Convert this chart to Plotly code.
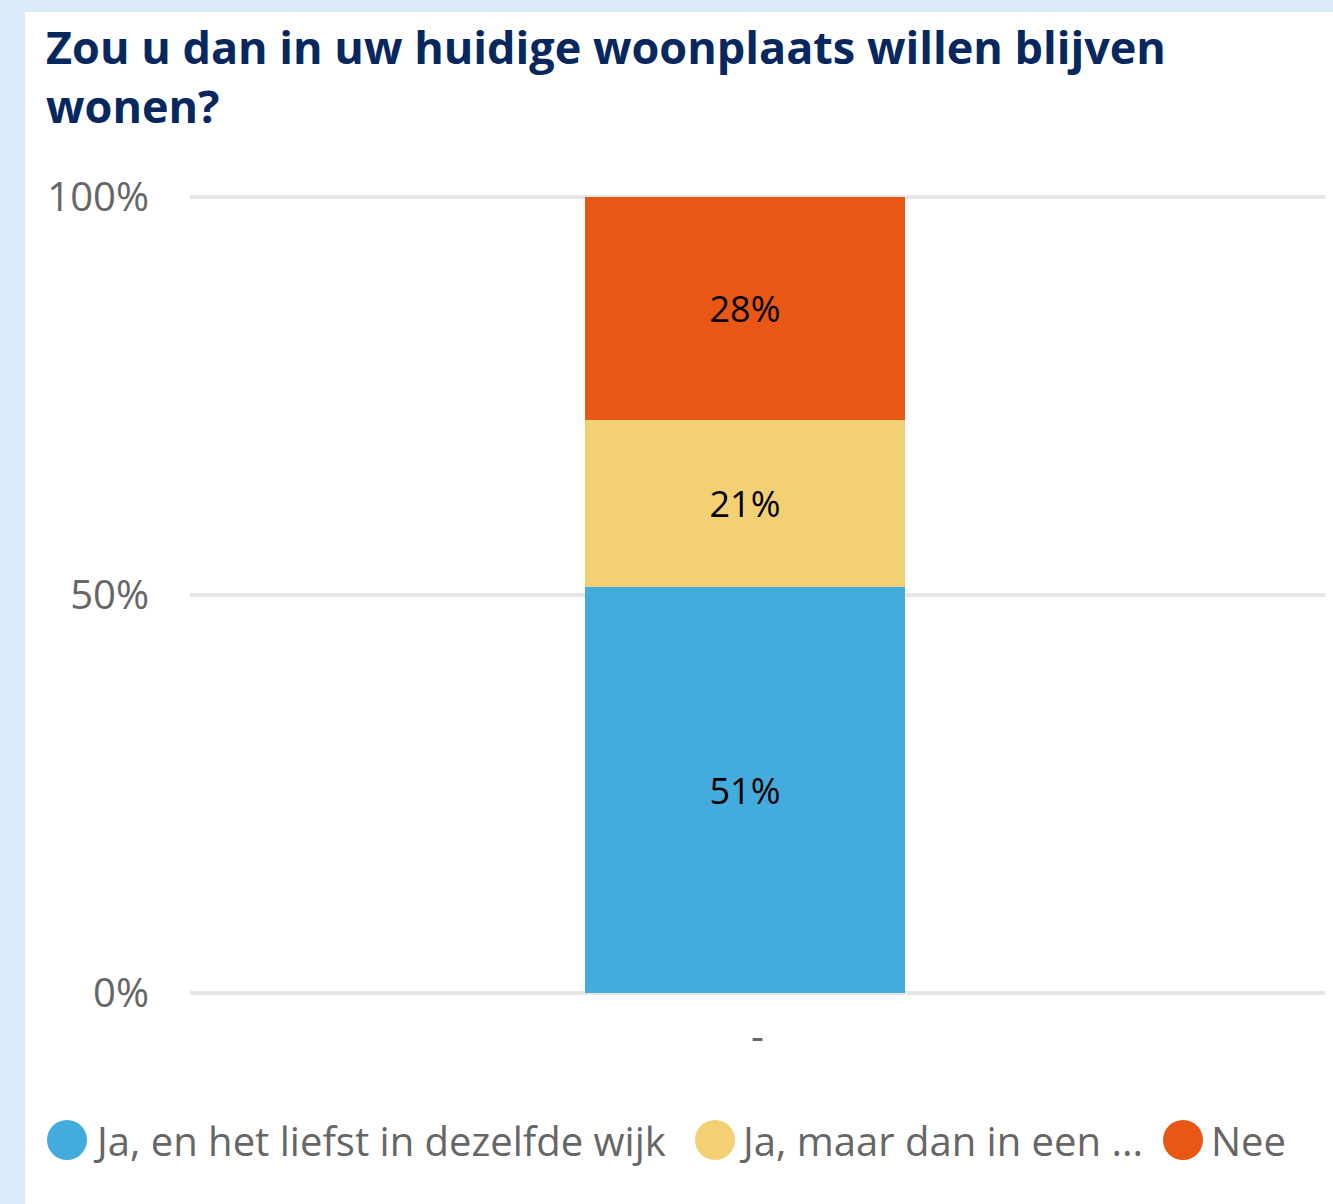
import plotly.graph_objects as go

categories = ["-"]
series_names = ["Ja, en het liefst in dezelfde wijk", "Ja, maar dan in een ...", "Nee"]
series_values = [[51], [21], [28]]
series_colors = ["#44ACDD", "#F3D073", "#E85713"]
tick_vals = [0, 50, 100]
tick_text = ["0%", "50%", "100%"]
title_text = "Zou u dan in uw huidige woonplaats willen blijven<br>wonen?"

W, H = 1333, 1204
PAD = 0.25  # small range padding so the 0% and 100% gridlines show
L, R = 190, 1325
T, B = 197 - 7.96 * PAD, 993 + 7.96 * PAD  # plot area in px


def px_x(x):
    return (x - L) / (R - L)


def px_y(y):
    return (B - y) / (B - T)


FONT = "Open Sans"
GREY = "#666666"

fig = go.Figure()
for name, vals, col in zip(series_names, series_values, series_colors):
    fig.add_trace(go.Bar(
        x=categories, y=vals, name=name, marker_color=col, marker_line_width=0,
        width=0.282, offset=-0.152,
        text=[f"{v}%" for v in vals], textposition="inside", insidetextanchor="middle",
        textfont=dict(family=FONT, size=36, color="#000000"),
        showlegend=False, hoverinfo="skip",
    ))

shapes = [dict(type="rect", xref="paper", yref="paper",
               x0=px_x(25), x1=px_x(1340), y0=px_y(12), y1=px_y(1210),
               fillcolor="white", line_width=0, layer="below")]
annotations = [dict(text=title_text, xref="paper", yref="paper", x=px_x(44), y=px_y(14),
                    xanchor="left", yanchor="top", align="left", showarrow=False,
                    font=dict(family=FONT, size=45, color="#07285E", weight="bold"))]
legend_circle_x = [67, 715, 1183]
legend_text_x = [91, 737, 1209]
ly = 1140
for name, col, cx, tx in zip(series_names, series_colors, legend_circle_x, legend_text_x):
    shapes.append(dict(type="circle", xref="paper", yref="paper",
                       x0=px_x(cx - 20), x1=px_x(cx + 20), y0=px_y(ly + 20), y1=px_y(ly - 20),
                       fillcolor=col, line_width=0))
    annotations.append(dict(text=name, xref="paper", yref="paper", x=px_x(tx), y=px_y(ly),
                            xanchor="left", yanchor="middle", showarrow=False,
                            font=dict(family=FONT, size=40, color=GREY)))

fig.update_layout(
    width=W, height=H,
    margin=dict(l=L, r=W - R, t=T, b=H - B),
    paper_bgcolor="#DAEBF7", plot_bgcolor="white",
    barmode="stack", bargap=0,
    xaxis=dict(showgrid=False, zeroline=False, showline=False, ticks="",
               tickfont=dict(family=FONT, size=40, color=GREY), ticklabelstandoff=14),
    yaxis=dict(range=[-PAD, 100 + PAD], tickvals=tick_vals, ticktext=tick_text,
               showgrid=True, gridcolor="#E6E6E6", gridwidth=3.5, zeroline=False,
               tickfont=dict(family=FONT, size=40, color=GREY), ticklabelstandoff=40),
    shapes=shapes, annotations=annotations,
    font=dict(family=FONT),
)
fig.write_html("out.html", config={"displayModeBar": False},
               post_script="document.body.style.margin='0';")
